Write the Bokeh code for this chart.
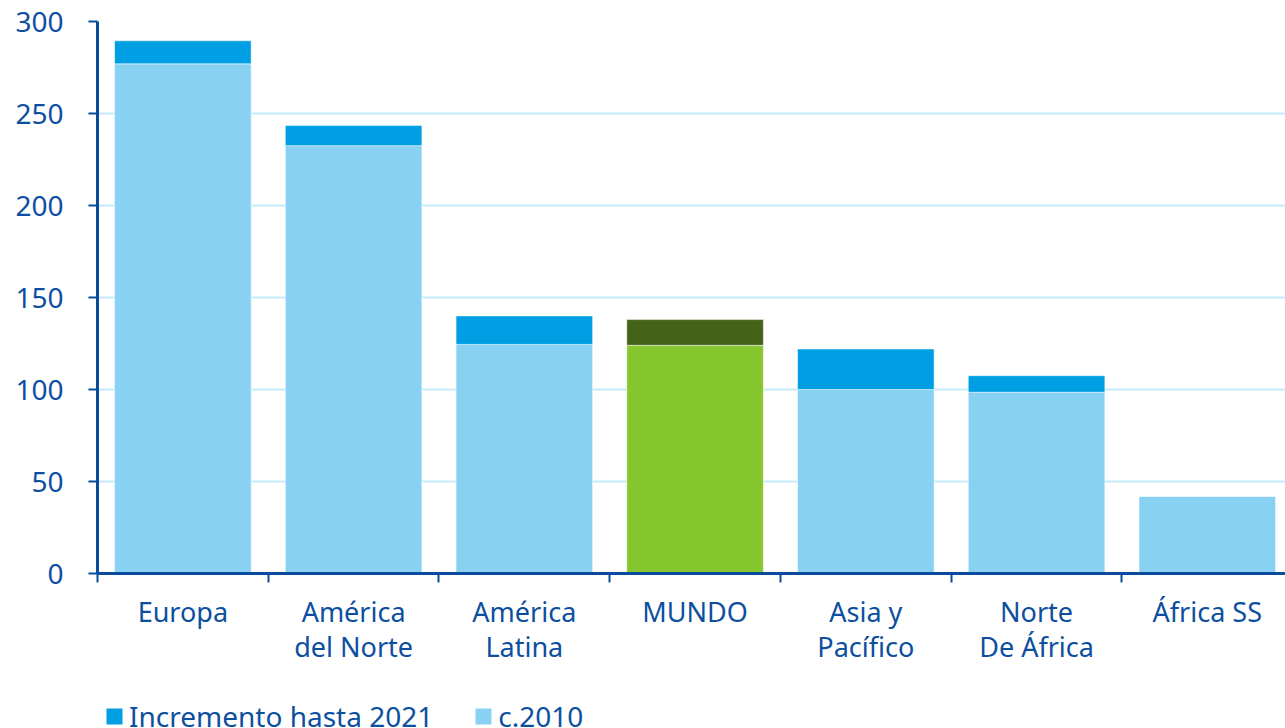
from bokeh.plotting import figure
from bokeh.layouts import column
from bokeh.models import Range1d, FixedTicker, ColumnDataSource, Legend, LegendItem
from bokeh.embed import file_html
from bokeh.resources import INLINE

# ---- data ----
categories = ["Europa", "América\ndel Norte", "América\nLatina", "MUNDO",
              "Asia y\nPacífico", "Norte\nDe África", "África SS"]
base_2010 = [277, 232.5, 124.5, 124, 100, 98.5, 42]
increment_2021 = [12.5, 11, 15.5, 14, 22, 9, 0]
y_ticks = [0, 50, 100, 150, 200, 250, 300]
series_names = ["Incremento hasta 2021", "c.2010"]
highlight = "MUNDO"

# ---- styles ----
TXT = "#0d4f9f"
AXIS = "#0a4c9c"
GRID = "#c6ebfa"
BASE = "#89d1f3"
INC = "#009fe3"
BASE_HI = "#86c62f"
INC_HI = "#456219"
FONT = "Noto Sans"

n = len(categories)
xpos = [i + 0.5 for i in range(n)]
total = [b + d for b, d in zip(base_2010, increment_2021)]
base_colors = [BASE_HI if c == highlight else BASE for c in categories]
inc_colors = [INC_HI if c == highlight else INC for c in categories]

src = ColumnDataSource(dict(x=xpos, base=base_2010, total=total,
                            bc=base_colors, ic=inc_colors))

p = figure(width=1285, height=690, output_backend="svg", toolbar_location=None,
           x_range=Range1d(0, 6.958), y_range=Range1d(0, 300),
           min_border_left=97, min_border_top=21, min_border_right=0,
           min_border_bottom=117)
p.outline_line_color = None
p.background_fill_color = "white"

r_base = p.vbar(x="x", width=0.8, bottom=0, top="base", fill_color="bc",
                line_color="white", line_alpha=0.5, line_width=1, source=src)
r_inc = p.vbar(x="x", width=0.8, bottom="base", top="total", fill_color="ic",
               line_color="white", line_alpha=0.5, line_width=1, source=src)

# grid
p.xgrid.grid_line_color = None
p.ygrid.grid_line_color = GRID
p.ygrid.grid_line_width = 2
p.ygrid.ticker = FixedTicker(ticks=y_ticks)

# y axis
ya = p.yaxis[0]
ya.ticker = FixedTicker(ticks=y_ticks)
ya.axis_line_color = AXIS
ya.axis_line_width = 3
ya.major_tick_line_color = AXIS
ya.major_tick_line_width = 2
ya.major_tick_out = 9
ya.major_tick_in = 0
ya.minor_tick_line_color = None
ya.major_label_text_color = TXT
ya.major_label_text_font = FONT
ya.major_label_text_font_size = "28px"
ya.major_label_standoff = 25

# x axis
xa = p.xaxis[0]
xa.ticker = FixedTicker(ticks=xpos, minor_ticks=list(range(n + 1)))
xa.major_label_overrides = {xv: c for xv, c in zip(xpos, categories)}
xa.axis_line_color = AXIS
xa.axis_line_width = 3
xa.major_tick_line_color = None
xa.major_tick_out = 0
xa.major_tick_in = 0
xa.minor_tick_line_color = AXIS
xa.minor_tick_line_width = 2
xa.minor_tick_out = 9
xa.minor_tick_in = 0
xa.major_label_text_color = TXT
xa.major_label_text_font = FONT
xa.major_label_text_font_size = "27px"
xa.major_label_text_line_height = 0.95
xa.major_label_standoff = 10

# ---- legend strip below the chart (proxy bars sit outside its visible range) ----
p2 = figure(width=1285, height=38, output_backend="svg", toolbar_location=None,
            x_range=Range1d(0, 6.958), y_range=Range1d(1000, 1001),
            x_axis_type=None, y_axis_type=None, min_border=0)
p2.outline_line_color = None
p2.xgrid.grid_line_color = None
p2.ygrid.grid_line_color = None
lg_inc = p2.vbar(x="x", width=0.8, bottom="base", top="total", fill_color="ic",
                 line_color=None, source=src)
lg_base = p2.vbar(x="x", width=0.8, bottom=0, top="base", fill_color="bc",
                  line_color=None, source=src)

legend = Legend(items=[LegendItem(label=series_names[0], renderers=[lg_inc], index=0),
                       LegendItem(label=series_names[1], renderers=[lg_base], index=0)],
                orientation="horizontal", location=(7, -7),
                glyph_width=20, glyph_height=20, label_standoff=5, spacing=40,
                padding=0, margin=0, border_line_color=None,
                background_fill_alpha=0,
                label_text_font=FONT, label_text_font_size="28px",
                label_text_color=TXT)
p2.add_layout(legend, "center")

layout = column(p, p2, spacing=0)
open("out.html", "w").write(file_html(layout, INLINE))
